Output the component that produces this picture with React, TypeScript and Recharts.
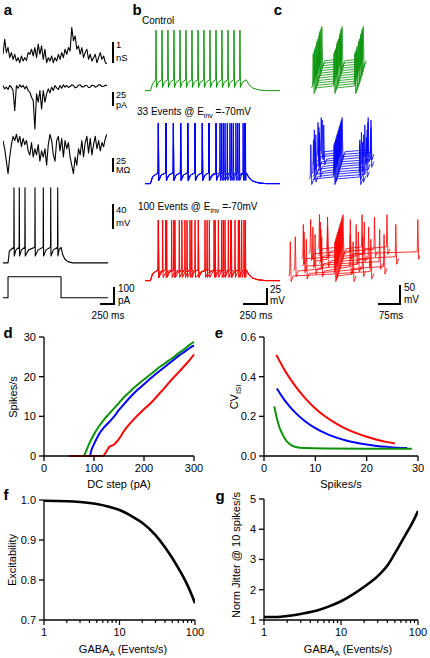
import React from "react";
import { LineChart, Line, XAxis, YAxis } from "recharts";

const FONT = "'Liberation Sans', Arial, Helvetica, sans-serif";
const GREEN = "#0a930a";
const BLUE = "#0000ff";
const RED = "#ff0000";

// ---- panel a: example conductance / current / resistance noise (one sample per step)
const conductanceNs = [0.46, 1.17, 0.54, 0.78, 0.3, 0.54, 0.22, 0.46, 0.14, 0.3, 0.06, 0.38, 0.14, 0.3, 0.17, 0.54, 0.46, 0.7, 0.38, 0.78, 0.3, 0.94, 0.46, 0.86, 0.22, 0.7, 0.06, 0.3, 0.14, 0.38, 0.06, 0.3, 0.14, 0.46, 0.22, 0.54, 0.3, 0.7, 0.46, 0.78, 0.62, 1.73, 1.1, 1.33, 0.7, 0.86, 0.46, 0.78, 0.3, 0.54, 0.7, 0.22, 0.46, 0.14, 0.3, 0.46, 0.06, 0.3, 0.54, 0.22, 0.38, 0.06, 0];
const currentPa = [3.2, -3.2, 0, -4.5, 3.2, 0, -6.4, -44.9, 3.2, -1.9, 4.5, 0, 3.2, -3.2, 1.9, -6.4, -9.6, -19.2, -25.6, -80, -12.8, -28.8, -6.4, -41.7, -6.4, -28.8, -12.8, -3.2, -10.9, 0, -6.4, 3.2, -1.3, -4.5, 3.2, -1.9, 4.5, 0, 3.2, -0.6, 1.3, 4.5, 3.2, -1.3, 0, 3.8, 4.5, 0.6, 0.6, 3.2, 3.2, -0.6, 0, 3.8, 3.2, 0, 1.3, 4.5, 4.5, 1.3, 1.9, 3.8, 3.2];
const resistanceMohm = [6.4, -6.4, -25.6, -44.9, -19.2, 0, 12.8, 6.4, 16, 3.2, 12.8, -3.2, 9.6, 0, 6.4, -9.6, -16, 3.2, -19.2, -6.4, -16, 0, -25.6, -9.6, -19.2, -6.4, -32, 0, 16, 6.4, -16, -25.6, 6.4, 12.8, -9.6, 9.6, -19.2, 6.4, -6.4, 3.2, -19.2, -32, -44.9, -19.2, -32, -6.4, -16, 6.4, -19.2, 3.2, 12.8, -12.8, 9.6, -16, 0, 12.8, -6.4, 6.4, -9.6, 3.2, -3.2, 9.6, 16];
const aSpikesMs = [208, 308, 416, 605, 762, 902, 1034];
const aStepT = [0, 95, 95, 1097, 1097, 1985];
const aStepPa = [0, 0, 120, 120, 0, 0];

// ---- panel b: spike times (ms) during the 1 s step
const controlSpikes = [122, 189, 255, 322, 389, 455, 522, 589, 655, 722, 789, 855, 922, 989, 1055];
const blueTrials = [
  [148, 233, 315, 396, 476, 556, 637, 711, 789, 852, 914, 981, 1048, 1115],
  [148, 233, 316, 397, 474, 557, 638, 712, 790, 870, 944, 1010, 1090],
  [149, 234, 315, 396, 475, 555, 636, 710, 833, 889, 962, 1030, 1105],
];
const redTrials = [
  [148, 241, 333, 444, 519, 593, 667, 767, 852, 926, 1000, 1074],
  [150, 196, 296, 381, 467, 556, 715, 815, 889, 952, 1037, 1115],
  [148, 230, 320, 410, 500, 593, 690, 780, 870, 960, 1050, 1100],
];

// ---- panel c: spike times (ms) of each stacked sweep, aligned on the middle spike
const greenIsi = [
  [96, 167, 238], [97, 166, 237], [96, 167, 239], [98, 168, 238], [97, 167, 240], [96, 166, 238],
  [97, 167, 239], [98, 168, 240], [97, 167, 238], [96, 167, 239], [97, 166, 238], [98, 167, 239],
];
const blueIsi = [
  [88, 167, 255], [100, 167, 262], [92, 167, 250], [110, 167, 270], [95, 167, 258], [105, 167, 248],
  [85, 167, 265], [98, 167, 275], [112, 167, 252], [90, 167, 260], [102, 167, 268], [96, 167, 256],
];
const redIsi = [
  [18, 170, 232], [70, 170, 290], [30, 120, 170, 260], [95, 170, 215, 330], [55, 170, 240], [110, 170, 310],
  [80, 130, 170, 270], [45, 170, 225, 360], [100, 170, 250], [65, 170, 200, 430], [120, 170, 280], [90, 170, 235, 320],
];

// ---- panel d: f-I curves
const dGreenX = [80, 85, 90, 100, 110, 120, 130, 140, 150, 160, 170, 180, 190, 200, 210, 220, 230, 240, 250, 260, 270, 280, 290, 300];
const dGreenY = [0, 1.5, 3, 5.5, 7.5, 9.2, 10.6, 12, 13.4, 14.8, 16, 17.2, 18.3, 19.3, 20.3, 21.3, 22.3, 23.2, 24.1, 25, 26, 26.9, 27.9, 28.8];
const dBlueX = [92, 95, 100, 110, 120, 130, 140, 150, 160, 170, 180, 190, 200, 210, 220, 230, 240, 250, 260, 270, 280, 290, 300];
const dBlueY = [0, 1.5, 3, 5.5, 7.2, 8.5, 9.9, 11.6, 13.1, 14.5, 15.8, 17, 18.1, 19.2, 20.3, 21.3, 22.3, 23.3, 24.3, 25.3, 26.2, 27.1, 27.9];
const dRedX = [50, 60, 70, 80, 90, 100, 110, 118, 125, 130, 140, 150, 160, 170, 180, 190, 200, 210, 220, 230, 240, 250, 260, 270, 280, 290, 300];
const dRedY = [0, 0, 0, 0, 0, 0, 0, 0, 1.2, 2.2, 2.9, 4.3, 6.3, 7.9, 9.3, 10.6, 11.8, 12.9, 14.2, 15.6, 17, 18.5, 19.9, 21.2, 22.6, 24, 25.6];

// ---- panel e: CV of ISI vs rate
const eGreenX = [2, 2.5, 3, 3.5, 4, 5, 6, 8, 12, 20, 28.8];
const eGreenY = [0.25, 0.19, 0.145, 0.115, 0.09, 0.06, 0.047, 0.04, 0.038, 0.037, 0.037];
const eBlueX = [2.5, 4, 6, 8, 10, 12, 14, 16, 18, 20, 22, 24, 26, 27.9];
const eBlueY = [0.34, 0.282, 0.221, 0.175, 0.14, 0.114, 0.094, 0.078, 0.067, 0.058, 0.051, 0.046, 0.042, 0.04];
const eRedX = [2.4, 4, 6, 8, 10, 12, 14, 16, 18, 20, 22, 24, 25.5];
const eRedY = [0.51, 0.434, 0.356, 0.292, 0.24, 0.198, 0.165, 0.137, 0.115, 0.097, 0.082, 0.07, 0.063];

// ---- panel f / g
const fRate = [1, 2, 3, 5, 7, 10, 15, 20, 30, 40, 50, 60, 70, 80, 90, 100];
const fExcitability = [0.998, 0.997, 0.995, 0.99, 0.984, 0.975, 0.958, 0.943, 0.912, 0.882, 0.855, 0.83, 0.808, 0.786, 0.764, 0.742];
const gRate = [1, 1.5, 2, 3, 5, 7, 10, 15, 20, 30, 40, 50, 60, 70, 80, 90, 100];
const gJitter = [1.1, 1.1, 1.13, 1.2, 1.32, 1.45, 1.62, 1.88, 2.1, 2.45, 2.8, 3.2, 3.55, 3.85, 4.1, 4.35, 4.6];
const logTicks = [1, 2, 3, 4, 5, 6, 7, 8, 9, 10, 20, 30, 40, 50, 60, 70, 80, 90, 100];

type Pt = { t: number; v: number };
type TrainOpts = { on: number; off: number; end: number; rest: number; thr: number; peak: number; ahp: number };

const samples = (vals: number[]): Pt[] => vals.map((v, t) => ({ t, v }));
const pairs = (ts: number[], vs: number[]): Pt[] => ts.map((t, i) => ({ t, v: vs[i] }));
const xy = (xs: number[], ys: number[]) => xs.map((x, i) => ({ x, y: ys[i] }));

// voltage trace of a step response built around the given spike times
function spikeTrain(spikes: number[], o: TrainOpts): Pt[] {
  const pts: Pt[] = [{ t: 0, v: o.rest }, { t: o.on, v: o.rest }, { t: o.on + 25, v: o.thr - 6 }];
  spikes.forEach((s, i) => {
    const next = i < spikes.length - 1 ? spikes[i + 1] - 3 : o.off;
    pts.push({ t: s - 3, v: o.thr }, { t: s, v: o.peak }, { t: s + 5, v: o.ahp });
    pts.push({ t: s + 5 + (next - s - 5) * 0.35, v: o.ahp + (o.thr - o.ahp) * 0.7 });
  });
  const d = o.thr - o.rest;
  pts.push(
    { t: o.off, v: o.thr },
    { t: o.off + 30, v: o.rest + d * 0.55 },
    { t: o.off + 70, v: o.rest + d * 0.25 },
    { t: o.off + 130, v: o.rest + d * 0.08 },
    { t: o.off + 220, v: o.rest },
    { t: o.end, v: o.rest }
  );
  return pts;
}

const B_OPTS: TrainOpts = { on: 60, off: 1125, end: 1500, rest: -65, thr: -48, peak: 30, ahp: -60 };
const A_OPTS: TrainOpts = { on: 95, off: 1097, end: 1985, rest: -65, thr: -40, peak: 55, ahp: -54 };

// one sweep of the waterfall in panel c, shifted by its row k
function isiSweep(spikes: number[], k: number): Pt[] {
  const base = -60, peak = 30, ahp = -75;
  const pts: Pt[] = [{ t: spikes[0] - 6, v: base }];
  spikes.forEach((s) => {
    pts.push({ t: s - 2, v: base + 5 }, { t: s, v: peak }, { t: s + 3, v: ahp }, { t: s + 10, v: base });
  });
  return pts.map((p) => ({ t: p.t + k * 2.5, v: p.v + k * 6.5 }));
}

function Traces({ left, top, width, height, xDomain, yDomain, series, color, sw = 1 }: any) {
  return (
    <div style={{ position: "absolute", left, top }}>
      <LineChart width={width} height={height} margin={{ top: 0, right: 0, bottom: 0, left: 0 }}>
        <XAxis type="number" dataKey="t" domain={xDomain} hide allowDataOverflow />
        <YAxis type="number" domain={yDomain} hide allowDataOverflow width={0} />
        {series.map((d: Pt[], i: number) => (
          <Line key={i} data={d} dataKey="v" type="linear" stroke={color} strokeWidth={sw}
            strokeLinejoin="round" dot={false} activeDot={false} isAnimationActive={false} />
        ))}
      </LineChart>
    </div>
  );
}

function T({ x, y, size = 10, bold = false, align = "center", children }: any) {
  const tx = align === "center" ? "-50%" : align === "right" ? "-100%" : "0";
  return (
    <div style={{ position: "absolute", left: x, top: y, transform: `translate(${tx}, -50%)`, fontSize: size,
      fontWeight: bold ? 700 : 400, lineHeight: 1, whiteSpace: "nowrap", color: "#000" }}>
      {children}
    </div>
  );
}

function VT({ x, y, size = 11, children }: any) {
  return (
    <div style={{ position: "absolute", left: x, top: y, transform: "translate(-50%, -50%) rotate(-90deg)",
      fontSize: size, lineHeight: 1, whiteSpace: "nowrap", color: "#000" }}>
      {children}
    </div>
  );
}

const VBar = ({ x, y1, y2 }: any) => (
  <div style={{ position: "absolute", left: x - 0.65, top: y1, width: 1.3, height: y2 - y1, background: "#000" }} />
);
const HBar = ({ x1, x2, y }: any) => (
  <div style={{ position: "absolute", left: x1, top: y - 0.65, width: x2 - x1, height: 1.3, background: "#000" }} />
);

const Sub = ({ children }: any) => (
  <sub style={{ fontSize: "0.7em", lineHeight: 0 }}>{children}</sub>
);

const axisProps = {
  stroke: "#000",
  axisLine: { stroke: "#000", strokeWidth: 1.3 },
  tickLine: { stroke: "#000", strokeWidth: 1.3 },
  tick: { fill: "#000", fontSize: 11 },
  tickSize: 5,
  tickMargin: 3,
  interval: 0 as const,
};

const LogTick = (props: any) => {
  const { x, y, payload } = props;
  const v = payload.value;
  const major = v === 1 || v === 10 || v === 100;
  return (
    <g>
      <line x1={x} x2={x} y1={y} y2={y + (major ? 5 : 3)} stroke="#000" strokeWidth={1.2} />
      {major && (
        <text x={x} y={y + 8} dy="0.71em" textAnchor="middle" fontSize={11} fill="#000">{v}</text>
      )}
    </g>
  );
};

const lineProps = { dot: false, activeDot: false, isAnimationActive: false, type: "monotone" as const, strokeLinejoin: "round" as const };

export default function App() {
  const fmt1 = (v: number) => v.toFixed(1);
  return (
    <div style={{ position: "absolute", left: 0, top: 0, width: 430, height: 658, background: "#fff",
      fontFamily: FONT, overflow: "hidden" }}>
      {/* panel letters */}
      <T x={8} y={9} size={15} bold>a</T>
      <T x={137} y={9} size={15} bold>b</T>
      <T x={278} y={9} size={15} bold>c</T>
      <T x={8} y={332} size={15} bold>d</T>
      <T x={219} y={332} size={15} bold>e</T>
      <T x={6} y={494} size={15} bold>f</T>
      <T x={220} y={495} size={15} bold>g</T>

      {/* a */}
      <Traces left={3} top={26} width={104} height={38} xDomain={[0, 62]} yDomain={[0, 1.8]}
        series={[samples(conductanceNs)]} color="#000" sw={1.1} />
      <Traces left={3} top={83} width={104} height={47} xDomain={[0, 62]} yDomain={[-82, 8]}
        series={[samples(currentPa)]} color="#000" sw={1.1} />
      <Traces left={3} top={133} width={104} height={42} xDomain={[0, 62]} yDomain={[-47, 18]}
        series={[samples(resistanceMohm)]} color="#000" sw={1.1} />
      <Traces left={3} top={186} width={105} height={80} xDomain={[0, 1985]} yDomain={[-70, 58]}
        series={[spikeTrain(aSpikesMs, A_OPTS)]} color="#000" sw={1.1} />
      <Traces left={3} top={275} width={105} height={24.5} xDomain={[0, 1985]} yDomain={[-10, 130]}
        series={[pairs(aStepT, aStepPa)]} color="#000" sw={1.1} />

      <VBar x={113} y1={42} y2={63} />
      <T x={116} y={45} size={9.5} align="left">1</T>
      <T x={116} y={58} size={9.5} align="left">nS</T>
      <VBar x={113} y1={92} y2={106} />
      <T x={116} y={95} size={9} align="left">25</T>
      <T x={116} y={104.5} size={9} align="left">pA</T>
      <VBar x={113} y1={158} y2={172} />
      <T x={116} y={160.5} size={9} align="left">25</T>
      <T x={116} y={170} size={9} align="left">MΩ</T>
      <VBar x={113} y1={204} y2={229} />
      <T x={116} y={210} size={9.5} align="left">40</T>
      <T x={116} y={223} size={9.5} align="left">mV</T>
      <VBar x={114} y1={287} y2={304} />
      <HBar x1={100} x2={114.6} y={304} />
      <T x={118} y={289} align="left">100</T>
      <T x={118} y={301} align="left">pA</T>
      <T x={108} y={316}>250 ms</T>

      {/* b */}
      <T x={142} y={21} align="left">Control</T>
      <T x={137} y={112} align="left">33 Events @ E<Sub>inv</Sub> =-70mV</T>
      <T x={138} y={207} align="left">100 Events @ E<Sub>inv</Sub> =-70mV</T>
      <Traces left={145} top={27} width={135} height={70} xDomain={[0, 1500]} yDomain={[-75, 35]}
        series={[spikeTrain(controlSpikes, B_OPTS)]} color={GREEN} sw={1} />
      <Traces left={145} top={120} width={135} height={70} xDomain={[0, 1500]} yDomain={[-75, 35]}
        series={blueTrials.map((s) => spikeTrain(s, B_OPTS))} color={BLUE} sw={1} />
      <Traces left={145} top={217} width={135} height={70} xDomain={[0, 1500]} yDomain={[-75, 35]}
        series={redTrials.map((s) => spikeTrain(s, B_OPTS))} color={RED} sw={1} />
      <VBar x={267} y1={288} y2={304} />
      <HBar x1={243} x2={267.6} y={304} />
      <T x={270} y={290} align="left">25</T>
      <T x={270} y={301} align="left">mV</T>
      <T x={256} y={316}>250 ms</T>

      {/* c */}
      <Traces left={285} top={26} width={135} height={69.5} xDomain={[0, 460]} yDomain={[-80, 103]}
        series={greenIsi.map((s, k) => isiSweep(s, k))} color={GREEN} sw={0.8} />
      <Traces left={285} top={117} width={135} height={69.5} xDomain={[0, 460]} yDomain={[-80, 103]}
        series={blueIsi.map((s, k) => isiSweep(s, k))} color={BLUE} sw={0.8} />
      <Traces left={285} top={214} width={135} height={69.5} xDomain={[0, 460]} yDomain={[-80, 103]}
        series={redIsi.map((s, k) => isiSweep(s, k))} color={RED} sw={0.8} />
      <VBar x={400} y1={285} y2={304} />
      <HBar x1={378} x2={400.6} y={304} />
      <T x={404} y={288} align="left">50</T>
      <T x={404} y={300} align="left">mV</T>
      <T x={391} y={316}>75ms</T>

      {/* d */}
      <div style={{ position: "absolute", left: 0, top: 327 }}>
        <LineChart width={210} height={170} margin={{ top: 10, right: 16, bottom: 17, left: 0 }}>
          <XAxis type="number" dataKey="x" domain={[0, 300]} ticks={[0, 100, 200, 300]} height={24} {...axisProps} />
          <YAxis type="number" domain={[0, 30]} ticks={[0, 10, 20, 30]} width={44} {...axisProps} />
          <Line data={xy(dGreenX, dGreenY)} dataKey="y" stroke={GREEN} strokeWidth={2} {...lineProps} />
          <Line data={xy(dBlueX, dBlueY)} dataKey="y" stroke={BLUE} strokeWidth={2} {...lineProps} />
          <Line data={xy(dRedX, dRedY)} dataKey="y" stroke={RED} strokeWidth={2} {...lineProps} />
        </LineChart>
      </div>
      <VT x={13} y={397}>Spikes/s</VT>
      <T x={119} y={484} size={11}>DC step (pA)</T>

      {/* e */}
      <div style={{ position: "absolute", left: 215, top: 327 }}>
        <LineChart width={215} height={170} margin={{ top: 10, right: 12, bottom: 17, left: 0 }}>
          <XAxis type="number" dataKey="x" domain={[0, 30]} ticks={[0, 10, 20, 30]} height={24} {...axisProps} />
          <YAxis type="number" domain={[0, 0.6]} ticks={[0, 0.2, 0.4, 0.6]} width={49} tickFormatter={fmt1} {...axisProps} />
          <Line data={xy(eRedX, eRedY)} dataKey="y" stroke={RED} strokeWidth={2} {...lineProps} />
          <Line data={xy(eBlueX, eBlueY)} dataKey="y" stroke={BLUE} strokeWidth={2} {...lineProps} />
          <Line data={xy(eGreenX, eGreenY)} dataKey="y" stroke={GREEN} strokeWidth={2} {...lineProps} />
        </LineChart>
      </div>
      <VT x={234} y={397}>CV<Sub>ISI</Sub></VT>
      <T x={341} y={484} size={11}>Spikes/s</T>

      {/* f */}
      <div style={{ position: "absolute", left: 0, top: 490 }}>
        <LineChart width={210} height={168} margin={{ top: 10, right: 15, bottom: 8, left: 0 }}>
          <XAxis type="number" dataKey="x" scale="log" domain={[1, 100]} ticks={logTicks} height={30}
            stroke="#000" axisLine={{ stroke: "#000", strokeWidth: 1.3 }} tickLine={false} tickSize={0} tickMargin={0}
            interval={0} tick={(p: any) => <LogTick {...p} />} allowDataOverflow />
          <YAxis type="number" domain={[0.7, 1.0]} ticks={[0.7, 0.8, 0.9, 1.0]} width={44} tickFormatter={fmt1} {...axisProps} />
          <Line data={xy(fRate, fExcitability)} dataKey="y" stroke="#000" strokeWidth={2.6} {...lineProps} />
        </LineChart>
      </div>
      <VT x={12} y={560}>Excitability</VT>
      <T x={123} y={649} size={11}>GABA<Sub>A</Sub> (Events/s)</T>

      {/* g */}
      <div style={{ position: "absolute", left: 215, top: 489 }}>
        <LineChart width={215} height={169} margin={{ top: 10, right: 12, bottom: 8, left: 0 }}>
          <XAxis type="number" dataKey="x" scale="log" domain={[1, 100]} ticks={logTicks} height={30}
            stroke="#000" axisLine={{ stroke: "#000", strokeWidth: 1.3 }} tickLine={false} tickSize={0} tickMargin={0}
            interval={0} tick={(p: any) => <LogTick {...p} />} allowDataOverflow />
          <YAxis type="number" domain={[1, 5]} ticks={[1, 2, 3, 4, 5]} width={49} {...axisProps} />
          <Line data={xy(gRate, gJitter)} dataKey="y" stroke="#000" strokeWidth={2.6} {...lineProps} />
        </LineChart>
      </div>
      <VT x={236} y={555}>Norm Jitter @ 10 spikes/s</VT>
      <T x={348} y={649} size={11}>GABA<Sub>A</Sub> (Events/s)</T>
    </div>
  );
}
